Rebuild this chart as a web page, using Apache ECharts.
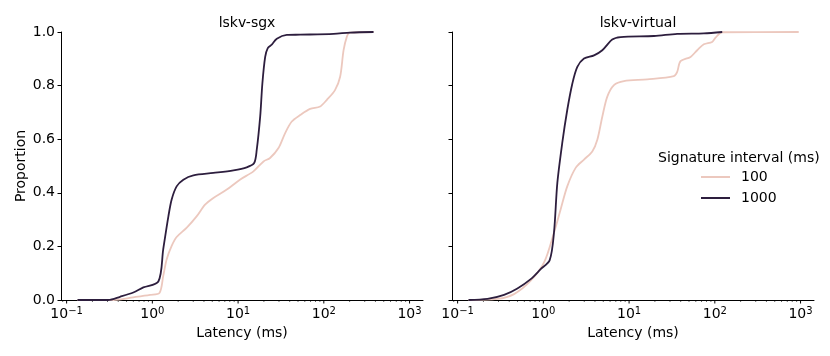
<!DOCTYPE html>
<html>
<head>
<meta charset="utf-8">
<script src="https://cdn.jsdelivr.net/npm/echarts@6/dist/echarts.min.js"></script>
<style>
  html, body { margin: 0; padding: 0; background: #fff; }
  #main { width: 830px; height: 356px; }
</style>
</head>
<body>
<div id="main"></div>
<script>
// latency (ms) / proportion
var sgx100X = [0.134, 0.35, 0.6, 0.94, 1.21, 1.34, 1.47, 1.68, 1.92, 2.52, 3.3, 4.12, 5.15, 7.38, 10.5, 15.1, 19.8, 23.6, 29.6, 35.4, 42.3, 53, 69.2, 90.6, 108, 135, 155, 170, 185, 200, 380];
var sgx100Y = [0, 0, 0.01, 0.019, 0.026, 0.09, 0.152, 0.202, 0.235, 0.27, 0.313, 0.356, 0.381, 0.412, 0.449, 0.48, 0.517, 0.53, 0.567, 0.623, 0.666, 0.69, 0.713, 0.722, 0.746, 0.783, 0.833, 0.932, 0.981, 0.998, 1.0];
var sgx1000X = [0.134, 0.306, 0.42, 0.6, 0.785, 1.175, 1.34, 1.54, 1.68, 1.92, 2.3, 3.01, 5.15, 8.83, 12.6, 15.4, 16.5, 18.1, 19.2, 20.7, 22.2, 24.7, 28.3, 37, 53, 130, 203, 380];
var sgx1000Y = [0, 0, 0.012, 0.028, 0.047, 0.069, 0.19, 0.313, 0.375, 0.424, 0.449, 0.465, 0.474, 0.484, 0.495, 0.511, 0.56, 0.684, 0.808, 0.907, 0.94, 0.953, 0.975, 0.989, 0.99, 0.993, 0.998, 1.0];
var virt100X = [0.134, 0.291, 0.455, 0.712, 1.02, 1.33, 1.59, 1.9, 2.38, 2.98, 3.72, 4.26, 4.87, 5.57, 6.66, 8.7, 16.3, 33.3, 36.4, 39.8, 52.1, 62.3, 74.5, 93, 102, 122, 952];
var virt100Y = [0, 0.004, 0.022, 0.072, 0.14, 0.251, 0.338, 0.424, 0.493, 0.524, 0.554, 0.598, 0.684, 0.759, 0.802, 0.817, 0.823, 0.835, 0.851, 0.891, 0.907, 0.932, 0.954, 0.963, 0.979, 0.999, 1.0];
var virt1000X = [0.134, 0.223, 0.348, 0.498, 0.712, 0.93, 1.186, 1.33, 1.456, 1.66, 1.9, 2.18, 2.49, 2.98, 3.9, 4.87, 6.36, 7.96, 19.5, 36.4, 74.5, 122];
var virt1000Y = [0, 0.004, 0.019, 0.043, 0.078, 0.115, 0.149, 0.251, 0.437, 0.585, 0.709, 0.808, 0.87, 0.901, 0.913, 0.932, 0.972, 0.981, 0.985, 0.993, 0.995, 1.0];

var panelTitles = ['lskv-sgx', 'lskv-virtual'];
var legendNames = ['100', '1000'];

var colLight = '#ecc8be';
var colDark = '#2d1e3e';
var font = 'DejaVu Sans';
var xMin = 0.086, xMax = 1435;

function pairs(xs, ys) {
  return xs.map(function (x, i) { return [x, ys[i]]; });
}

function xLabel(v) {
  var l = Math.log10(v);
  var e = Math.round(l);
  if (Math.abs(l - e) > 0.01) return '';
  return '{b|10}{s|' + (e < 0 ? '\u2212' : '') + Math.abs(e) + '}';
}

var chart = echarts.init(document.getElementById('main'));

function xAxisCfg(idx) {
  return {
    type: 'log', logBase: 10, gridIndex: idx, min: xMin, max: xMax,
    name: 'Latency (ms)', nameLocation: 'middle', nameGap: 24,
    nameTextStyle: { fontFamily: font, fontSize: 14, color: '#000' },
    axisLine: { lineStyle: { color: '#000', width: 1 } },
    axisTick: { show: false },
    splitLine: { show: false },
    axisLabel: {
      margin: 6, formatter: xLabel, showMinLabel: false, showMaxLabel: false,
      rich: {
        b: { fontFamily: font, fontSize: 14, color: '#000', lineHeight: 17 },
        s: { fontFamily: font, fontSize: 10, color: '#000', verticalAlign: 'top', lineHeight: 11 }
      }
    }
  };
}

function yAxisCfg(idx, labels) {
  return {
    type: 'value', gridIndex: idx, min: 0, max: 1, interval: 0.2,
    name: labels ? 'Proportion' : '', nameLocation: 'middle', nameGap: 33,
    nameTextStyle: { fontFamily: font, fontSize: 14, color: '#000' },
    axisLine: { show: true, lineStyle: { color: '#000', width: 1 } },
    axisTick: { show: true, length: 3.5, lineStyle: { color: '#000', width: 1 } },
    splitLine: { show: false },
    axisLabel: {
      show: labels, margin: 6, fontFamily: font, fontSize: 14, color: '#000',
      formatter: function (v) { return v.toFixed(1); }
    }
  };
}

function lineSeries(name, idx, xs, ys, color) {
  return {
    name: name, type: 'line', xAxisIndex: idx, yAxisIndex: idx,
    data: pairs(xs, ys), symbol: 'none', showSymbol: false,
    smooth: 0.3,
    lineStyle: { color: color, width: 1.8 }, itemStyle: { color: color },
    z: name === '1000' ? 3 : 2
  };
}

var option = {
  animation: false,
  backgroundColor: '#fff',
  title: [
    { text: panelTitles[0], left: 242, top: 11, textAlign: 'center',
      textStyle: { fontFamily: font, fontSize: 14, fontWeight: 'normal', color: '#000' } },
    { text: panelTitles[1], left: 633, top: 11, textAlign: 'center',
      textStyle: { fontFamily: font, fontSize: 14, fontWeight: 'normal', color: '#000' } },
    { text: 'Signature interval (ms)', left: 653, top: 146,
      textStyle: { fontFamily: font, fontSize: 14, fontWeight: 'normal', color: '#000' } }
  ],
  legend: {
    data: legendNames, orient: 'vertical', left: 700, top: 170, padding: 0,
    itemWidth: 29, itemHeight: 14, itemGap: 7,
    itemStyle: { opacity: 0 },
    textStyle: { fontFamily: font, fontSize: 14, color: '#000', padding: [0, 0, 0, 6] }
  },
  grid: [
    { left: 61, top: 32, width: 362, height: 268 },
    { left: 452, top: 32, width: 362, height: 268 }
  ],
  xAxis: [xAxisCfg(0), xAxisCfg(1)],
  yAxis: [yAxisCfg(0, true), yAxisCfg(1, false)],
  series: [
    lineSeries('100', 0, sgx100X, sgx100Y, colLight),
    lineSeries('1000', 0, sgx1000X, sgx1000Y, colDark),
    lineSeries('100', 1, virt100X, virt100Y, colLight),
    lineSeries('1000', 1, virt1000X, virt1000Y, colDark)
  ]
};
chart.setOption(option);

// log-axis ticks (major + minor, matplotlib style) placed through the axis scale
var ticks = [];
[0, 1].forEach(function (idx) {
  var y0 = chart.convertToPixel({ yAxisIndex: idx }, 0);
  for (var d = -2; d <= 3; d++) {
    for (var k = 1; k <= 9; k++) {
      var v = k * Math.pow(10, d);
      if (v < xMin || v > xMax) continue;
      var px = chart.convertToPixel({ xAxisIndex: idx }, v);
      var len = k === 1 ? 3.5 : 2;
      ticks.push({
        type: 'line', silent: true,
        shape: { x1: px, y1: y0, x2: px, y2: y0 + len },
        style: { stroke: '#000', lineWidth: k === 1 ? 1 : 0.6 }
      });
    }
  }
});
chart.setOption({ graphic: ticks });
</script>
</body>
</html>
